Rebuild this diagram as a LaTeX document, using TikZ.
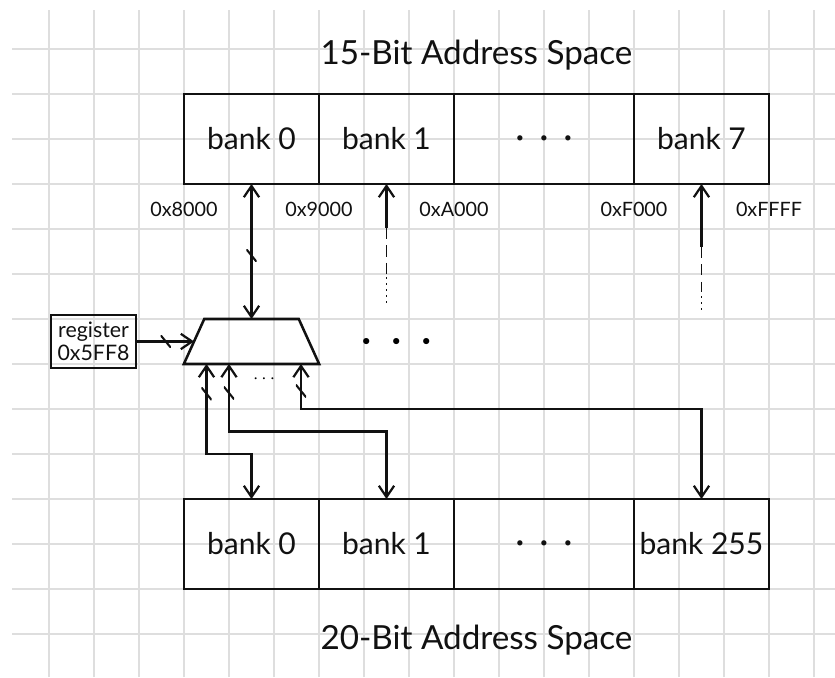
\documentclass[tikz,border=0pt]{standalone}
\usepackage{fontspec}
\setmainfont{Lato}
\usepackage{tikz}
\usetikzlibrary{arrows.meta,positioning,shapes.geometric}
\usepackage{xcolor}
\definecolor{ink}{RGB}{17,17,17}
\definecolor{paper}{RGB}{222,222,222}
\newcommand{\dotrow}[1]{$\bullet$\hspace{#1}$\bullet$\hspace{#1}$\bullet$}
\tikzset{
    grid line/.style={draw=paper,line width=0.9pt},
    cell/.style={
        draw=ink,line width=1.6pt,minimum width=#1,minimum height=2cm,
        inner sep=0pt,outer sep=0pt,text=ink,font=\fontsize{19}{22}\selectfont
    },
    cell/.default=3cm,
    heading/.style={text=ink,font=\fontsize{21}{24}\selectfont},
    addr/.style={text=ink,font=\fontsize{12.5}{14}\selectfont},
    reg/.style={
        draw=ink,line width=1.5pt,minimum width=1.9cm,minimum height=1.17cm,
        inner sep=0pt,align=center,text=ink,font=\fontsize{13.5}{14.5}\selectfont
    },
    mux/.style={
        trapezium,trapezium angle=65.6,
        draw=ink,line width=1.6pt,inner xsep=1.05cm,inner ysep=0.5cm,outer sep=0pt
    },
    link/.style={
        {Straight Barb[length=2.5mm,width=3.4mm]}-{Straight Barb[length=2.5mm,width=3.4mm]},
        line width=1.4pt,draw=ink
    },
    feed/.style={-{Straight Barb[length=2.5mm,width=3.4mm]},line width=1.4pt,draw=ink},
    back/.style={{Straight Barb[length=2.5mm,width=3.4mm]}-,line width=1.4pt,draw=ink},
    trail/.style={line width=1.1pt,draw=ink,dash pattern=on 7pt off 4pt},
    fade/.style={line width=1.1pt,draw=ink,dash pattern=on 1.2pt off 2.6pt},
    bus/.style={
        minimum width=6.5pt,minimum height=8pt,inner sep=0pt,
        path picture={\draw[-,ink,line width=1.3pt] (path picture bounding box.north west) -- (path picture bounding box.south east);}
    }
}
\begin{document}
\begin{tikzpicture}

\path[use as bounding box,fill=white] (-0.089,0.044) rectangle (18.467,15.089);
\foreach \x in {1,...,18} \draw[grid line] (\x,0.044) -- (\x,14.867);
\foreach \y in {1,...,14} \draw[grid line] (0.178,\y) -- (18.467,\y);

\node[cell] (w0) at (5.5,12) {bank 0};
\node[cell,right=0pt of w0] (w1) {bank 1};
\node[cell=4cm,right=0pt of w1] (wd) {\fontsize{8}{8}\selectfont\dotrow{11pt}};
\node[cell,right=0pt of wd] (w7) {bank 7};
\node[heading] (top) at (10.5,13.87) {15-Bit Address Space};

\node[addr] (a8) at ([yshift=-0.56cm]w0.south west) {0x8000};
\node[addr] (a9) at ([yshift=-0.56cm]w1.south west) {0x9000};
\node[addr] (aa) at ([yshift=-0.56cm]wd.south west) {0xA000};
\node[addr] (af) at ([yshift=-0.56cm]w7.south west) {0xF000};
\node[addr] (ae) at ([yshift=-0.56cm]w7.south east) {0xFFFF};

\node[mux] (mux) at (5.5,7.5) {};
\node[reg] (reg) at (1.99,7.5) {register\\0x5FF8};
\node (more) at (8.72,7.5) {\dotrow{14pt}};
\node[font=\fontsize{12}{12}\selectfont] (few) at (5.78,6.67) {$\cdots$};

\node[cell] (p0) at (5.5,3) {bank 0};
\node[cell,right=0pt of p0] (p1) {bank 1};
\node[cell=4cm,right=0pt of p1] (pd) {\fontsize{8}{8}\selectfont\dotrow{11pt}};
\node[cell,right=0pt of pd] (p255) {bank 255};
\node[heading] (bottom) at (10.5,0.87) {20-Bit Address Space};

\draw[link] (w0.south) -- node[bus,pos=.53]{} (mux.north);
\draw[feed] (reg.east) -- node[bus]{} (mux.west);

\foreach \b/\p/\q/\r in {w1/0.98/1.09/0.66,w7/1.4/0.96/0.48}{
    \draw[back] (\b.south) -- ++(0,-\p) coordinate (\b a);
    \draw[trail] (\b a) -- ++(0,-\q) coordinate (\b b);
    \draw[fade] (\b b) -- ++(0,-\r);
}

\draw[link] ([xshift=-1cm]mux.south) -- node[bus,pos=.33]{} ++(0,-2) -| (p0.north);
\draw[link] ([xshift=-0.5cm]mux.south) -- node[bus,pos=.43]{} ++(0,-1.5) -| (p1.north);
\draw[link] ([xshift=1.1cm]mux.south) -- node[bus,pos=.6]{} ++(0,-1) -| (p255.north);

\end{tikzpicture}
\end{document}
